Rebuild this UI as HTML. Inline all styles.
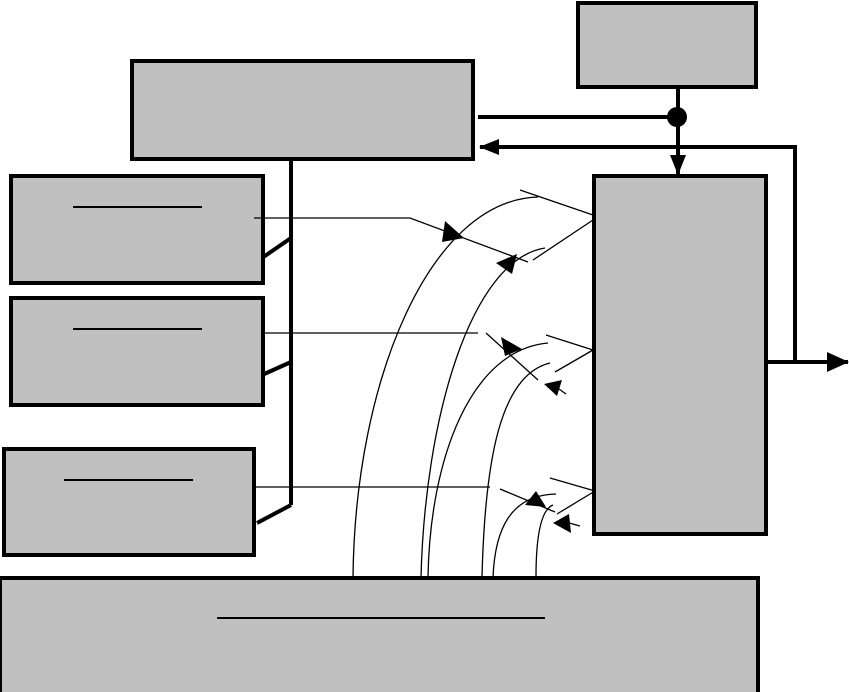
<!DOCTYPE html>
<html><head><style>body{margin:0;background:#fff}svg{display:block}</style></head><body>
<svg width="849" height="692" viewBox="0 0 849 692" xmlns="http://www.w3.org/2000/svg">
<defs>
<marker id="b" markerWidth="20" markerHeight="16" refX="19" refY="8" orient="auto" markerUnits="userSpaceOnUse"><path d="M0,0 L20,8 L0,16z" fill="#000"/></marker>
<marker id="c" markerWidth="22" markerHeight="20" refX="21" refY="10" orient="auto" markerUnits="userSpaceOnUse"><path d="M0,0 L22,10 L0,20z" fill="#000"/></marker>
</defs>
<g fill="#c0c0c0" stroke="#000" stroke-width="4">
<rect x="132" y="61" width="341" height="98"/>
<rect x="578" y="3" width="178" height="84"/>
<rect x="594" y="176" width="172" height="358"/>
<rect x="11" y="176" width="252" height="107"/>
<rect x="11" y="298" width="252" height="107"/>
<rect x="4" y="449" width="250" height="106"/>
<rect x="0" y="578" width="758" height="120"/>
</g>
<g stroke="#000" stroke-width="2">
<line x1="73" y1="207" x2="202" y2="207"/>
<line x1="73" y1="329" x2="202" y2="329"/>
<line x1="64" y1="480" x2="193" y2="480"/>
<line x1="217" y1="618" x2="545" y2="618"/>
</g>
<g stroke="#000" stroke-width="4" fill="none">
<polyline points="291,160 291,505"/>
<line x1="262" y1="258" x2="291" y2="238"/>
<line x1="262" y1="375" x2="291" y2="362"/>
<line x1="257" y1="523" x2="291" y2="505"/>
<line x1="478" y1="117" x2="676" y2="117"/>
<line x1="678" y1="88" x2="678" y2="174" marker-end="url(#b)"/>
<polyline points="795,362 795,147 480,147" marker-end="url(#b)"/>
<line x1="767" y1="362" x2="848" y2="362" marker-end="url(#c)"/>
</g>
<circle cx="677" cy="117" r="10" fill="#000"/>
<g stroke="#000" stroke-width="1.3" fill="none">
<polyline points="254,218 410,218 528,262"/>
<line x1="264" y1="333" x2="478" y2="333"/>
<line x1="486" y1="333" x2="538" y2="380"/>
<line x1="255" y1="487" x2="490" y2="487"/>
<line x1="500" y1="489" x2="555" y2="512"/>
<line x1="520" y1="190" x2="593" y2="215"/><line x1="533" y1="260" x2="593" y2="220"/>
<line x1="546" y1="335" x2="593" y2="350"/><line x1="555" y1="372" x2="593" y2="350"/>
<line x1="550" y1="478" x2="595" y2="491"/><line x1="557" y1="514" x2="595" y2="491"/>
<path d="M353,577 C355,380 430,200 538,197"/>
<path d="M421,577 C425,420 470,260 545,248"/>
<path d="M428,577 C430,460 470,350 548,343"/>
<path d="M482,577 C485,460 500,375 550,363"/>
<path d="M493,577 C495,530 510,495 556,494"/>
<path d="M536,577 C536,540 540,510 553,505"/>
</g>
<g fill="#000">
<path d="M445,221 L464,238 L442,242z"/>
<path d="M496,263 L517,254 L512,274z"/>
<path d="M501,337 L522,349 L505,356z"/>
<path d="M544,384 L562,380 L557,396z"/>
<path d="M525,505 L536,491 L546,507z"/>
<path d="M553,523 L569,514 L571,533z"/>
</g>
<line x1="566" y1="394" x2="552" y2="384" stroke="#000" stroke-width="1.3"/>
<line x1="580" y1="526" x2="562" y2="521" stroke="#000" stroke-width="1.3"/>
</svg>
</body></html>
